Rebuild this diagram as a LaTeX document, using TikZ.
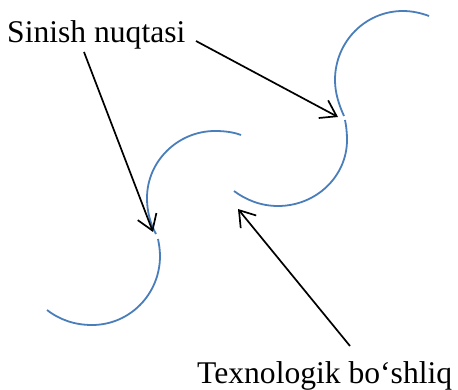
\documentclass[tikz,border=0pt]{standalone}
\usepackage{fontspec}
\setmainfont{Liberation Serif}
\usetikzlibrary{arrows.meta}
\definecolor{curveBlue}{RGB}{74,126,187}
\tikzset{
  curve/.style={curveBlue, line width=1.8pt},
  pointer/.style={-{Straight Barb[length=15pt,width=20pt]}, line width=1.7pt},
  caption/.style={font=\fontsize{31.6}{36}\selectfont, inner sep=0pt, anchor=base west}
}
\begin{document}
\begin{tikzpicture}[x=1pt,y=-1pt]
\useasboundingbox (0,0) rectangle (458,390);

% Labels
\node[caption] (breakLabel) at (7,43) {Sinish nuqtasi};
\node[caption] (gapLabel) at (197,383) {Texnologik bo‘shliq};

% Upper curve
\draw[curve] (429,16) .. controls (421,13) and (412,11) .. (403,11) .. controls (365,11) and (335,42) .. (335,80) .. controls (335,93) and (339,105) .. (344,116);
\draw[curve] (345,120) .. controls (346.3,126) and (347,133) .. (347,140) .. controls (347,176.5) and (316,206) .. (278,206) .. controls (261,206) and (246,200) .. (234,191);

% Lower curve
\draw[curve] (241,135) .. controls (233,132) and (224,131) .. (215,131) .. controls (178,131) and (147,161) .. (147,198) .. controls (147,211) and (150,223) .. (156,234);
\draw[curve] (158,239) .. controls (159,244) and (160,250) .. (160,256) .. controls (160,294) and (130,325) .. (92,325) .. controls (75,325) and (60,320) .. (47,310);

% Arrows
\coordinate (breakUpper) at (338,117);
\coordinate (breakLower) at (153,232);
\coordinate (gapEnd) at (238,209);
\coordinate (breakStartA) at (196,41);
\coordinate (breakStartB) at (84,52);
\coordinate (gapStart) at (350,346);
\draw[pointer] (breakStartA) -- (breakUpper);
\draw[pointer] (breakStartB) -- (breakLower);
\draw[pointer] (gapStart) -- (gapEnd);
\end{tikzpicture}
\end{document}
